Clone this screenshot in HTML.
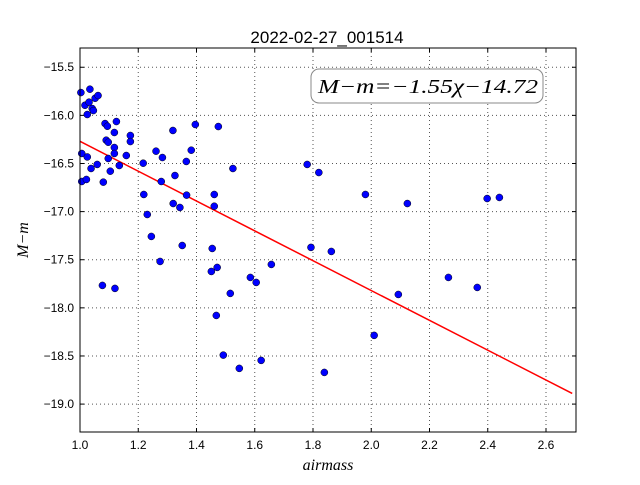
<!DOCTYPE html>
<html><head><meta charset="utf-8"><style>
body{margin:0;background:#fff}
svg text{font-family:"Liberation Sans",sans-serif}
</style></head><body>
<svg id="chart" width="640" height="480" xmlns="http://www.w3.org/2000/svg">
<rect width="640" height="480" fill="#fff"/>
<text x="327" y="43" text-anchor="middle" font-size="17">2022-02-27_001514</text>
<g id="grid"></g>
<g id="ticks"></g>
<g id="fitline"></g>
<g id="points"></g>
<rect x="80" y="48" width="496" height="384" fill="none" stroke="#000" stroke-width="1"/>
<rect x="311" y="69" width="232" height="34" rx="8" fill="#fff" stroke="#888" stroke-width="1"/>
<text x="318" y="93" font-size="20" font-style="italic" textLength="220" lengthAdjust="spacingAndGlyphs" style="font-family:'Liberation Serif',serif">M−m=−1.55χ−14.72</text>
<text x="328" y="470" text-anchor="middle" font-size="16" font-style="italic" style="font-family:'Liberation Serif',serif">airmass</text>
<text transform="translate(28,240) rotate(-90)" text-anchor="middle" font-size="16" font-style="italic" style="font-family:'Liberation Serif',serif">M−m</text>
</svg>
<script>
const airmass=[1.003,1.034,1.017,1.031,1.052,1.062,1.025,1.042,1.046,1.086,1.094,1.125,1.118,1.173,1.173,1.090,1.097,1.118,1.118,1.159,1.097,1.006,1.025,1.038,1.059,1.104,1.135,1.006,1.022,1.080,1.217,1.261,1.283,1.319,1.396,1.382,1.365,1.475,1.525,1.279,1.326,1.219,1.366,1.461,1.320,1.343,1.461,1.231,1.245,1.351,1.454,1.275,1.657,1.451,1.471,1.585,1.605,1.077,1.120,1.516,1.468,1.492,1.622,1.547,1.780,1.820,1.980,2.124,2.398,2.440,1.793,1.863,2.265,2.364,2.093,2.010,1.839];
const dmag=[-15.763,-15.728,-15.895,-15.863,-15.822,-15.794,-15.991,-15.929,-15.950,-16.085,-16.113,-16.064,-16.178,-16.209,-16.272,-16.258,-16.279,-16.334,-16.396,-16.417,-16.448,-16.396,-16.432,-16.552,-16.510,-16.580,-16.521,-16.687,-16.666,-16.694,-16.497,-16.372,-16.438,-16.157,-16.095,-16.362,-16.479,-16.116,-16.552,-16.687,-16.625,-16.822,-16.829,-16.822,-16.916,-16.957,-16.944,-17.030,-17.258,-17.352,-17.383,-17.518,-17.549,-17.622,-17.580,-17.684,-17.736,-17.767,-17.798,-17.850,-18.079,-18.491,-18.546,-18.629,-16.510,-16.594,-16.822,-16.916,-16.864,-16.853,-17.372,-17.414,-17.684,-17.788,-17.861,-18.286,-18.671];
const xTicks=[1.0,1.2,1.4,1.6,1.8,2.0,2.2,2.4,2.6];
const yTicks=[-15.5,-16.0,-16.5,-17.0,-17.5,-18.0,-18.5,-19.0];
const fitSlope=[-1.55];
const fitIntercept=[-14.72];
const fitRange=[1.0,2.69];
const X0=80,X1=576,Y0=48,Y1=432,xmin=1.0,xmax=2.703,ymax=-15.3,ymin=-19.29;
const sx=v=>X0+(v-xmin)/(xmax-xmin)*(X1-X0);
const sy=v=>Y0+(ymax-v)/(ymax-ymin)*(Y1-Y0);
const NS="http://www.w3.org/2000/svg";
function mk(tag,attrs,parent){const e=document.createElementNS(NS,tag);for(const k in attrs)e.setAttribute(k,attrs[k]);parent.appendChild(e);return e;}
const grid=document.getElementById('grid'),ticks=document.getElementById('ticks');
xTicks.forEach(t=>{const x=sx(t);
 const g=mk('line',{x1:x,x2:x,y1:Y0,y2:Y1,stroke:'#555','stroke-dasharray':'1,3','stroke-width':1},grid);
 
 
 mk('line',{x1:x,x2:x,y1:Y1,y2:Y1-4,stroke:'#000'},ticks);
 mk('line',{x1:x,x2:x,y1:Y0,y2:Y0+4,stroke:'#000'},ticks);
 const tx=mk('text',{x:x,y:Y1+17,'text-anchor':'middle','font-size':12},ticks);
 tx.textContent=t.toFixed(1);
 
 
});
yTicks.forEach(t=>{const y=sy(t);
 const g=mk('line',{x1:X0,x2:X1,y1:y,y2:y,stroke:'#555','stroke-dasharray':'1,3','stroke-width':1},grid);
 
 
 mk('line',{x1:X0,x2:X0+4,y1:y,y2:y,stroke:'#000'},ticks);
 mk('line',{x1:X1,x2:X1-4,y1:y,y2:y,stroke:'#000'},ticks);
 const tx=mk('text',{x:X0-6,y:y+4,'text-anchor':'end','font-size':12},ticks);
 tx.textContent=t.toFixed(1).replace('-','−');
 
 
});
const fl=mk('line',{x1:sx(fitRange[0]),y1:sy(fitSlope[0]*fitRange[0]+fitIntercept[0]),x2:sx(fitRange[1]),y2:sy(fitSlope[0]*fitRange[1]+fitIntercept[0]),stroke:'#f00','stroke-width':1.5},document.getElementById('fitline'));


const pts=document.getElementById('points');
airmass.forEach((a,i)=>{
 const c=mk('circle',{cx:sx(a),cy:sy(dmag[i]),r:3.5,fill:'#0000ff',stroke:'#000','stroke-width':0.5},pts);
 
 
});
</script>
</body></html>
